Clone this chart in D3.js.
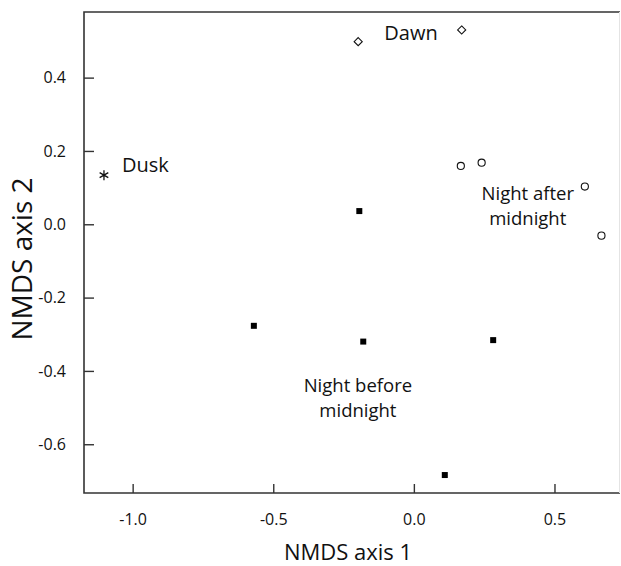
<!DOCTYPE html>
<html>
<head>
<meta charset="utf-8">
<script src="https://cdn.jsdelivr.net/npm/d3@7"></script>
<style>
  body { margin: 0; background: #fff; }
  svg text { font-family: "Open Sans", "Noto Sans", sans-serif; fill: #111; }
</style>
</head>
<body>
<div id="scatter"></div>
<script>
// NMDS scores, one array per sampling period
var duskX = [-1.102];
var duskY = [0.134];
var dawnX = [-0.198, 0.170];
var dawnY = [0.498, 0.530];
var afterX = [0.167, 0.241, 0.608, 0.667];
var afterY = [0.159, 0.168, 0.103, -0.031];
var beforeX = [-0.194, -0.569, -0.180, 0.282, 0.110];
var beforeY = [0.036, -0.277, -0.320, -0.316, -0.684];

var xTicks = [-1.0, -0.5, 0.0, 0.5];
var yTicks = [-0.6, -0.4, -0.2, 0.0, 0.2, 0.4];

// group labels and where they sit (data units)
var labelText = [["Dusk"], ["Dawn"], ["Night after", "midnight"], ["Night before", "midnight"]];
var labelX = [-0.955, -0.01, 0.405, -0.199];
var labelY = [0.143, 0.503, 0.066, -0.458];

var svgwidth = 621;
var svgheight = 566;
var margin = { top: 12, right: 1, bottom: 73, left: 84 };
var width = svgwidth - margin.left - margin.right;
var height = svgheight - margin.top - margin.bottom;

var svg = d3.select("#scatter")
  .append("svg")
  .attr("width", svgwidth)
  .attr("height", svgheight);

var chart = svg.append("g")
  .attr("transform", `translate(${margin.left}, ${margin.top})`);

var x = d3.scaleLinear().domain([-1.173, 0.733]).range([0, width]);
var y = d3.scaleLinear().domain([-0.733, 0.579]).range([height, 0]);

// plain hyphen for negatives, like the original
var fmt = function(d) { return d3.format(".1f")(d).replace("\u2212", "-"); };

var bottomaxis = d3.axisBottom(x).tickValues(xTicks).tickFormat(fmt)
  .tickSizeInner(-9).tickSizeOuter(0).tickPadding(21);
var leftaxis = d3.axisLeft(y).tickValues(yTicks).tickFormat(fmt)
  .tickSizeInner(-10).tickSizeOuter(0).tickPadding(18);

var gx = chart.append("g")
  .attr("transform", `translate(0, ${height})`)
  .call(bottomaxis);
var gy = chart.append("g").call(leftaxis);

[gx, gy].forEach(function(g) {
  g.select(".domain").remove();
  g.selectAll(".tick line").attr("stroke", "#333").attr("stroke-width", 1.4);
  g.selectAll(".tick text").style("font-size", "16px").attr("fill", "#111");
});

// frame: dark on left/top/bottom, faint on the right
chart.append("path")
  .attr("d", `M${width},0 H0 V${height} H${width}`)
  .attr("fill", "none").attr("stroke", "#333").attr("stroke-width", 1.6);
chart.append("line")
  .attr("x1", width - 0.5).attr("x2", width - 0.5)
  .attr("y1", 0).attr("y2", height)
  .attr("stroke", "#e4e4e4").attr("stroke-width", 1);

function pts(xs, ys) {
  return xs.map(function(d, i) { return { x: d, y: ys[i] }; });
}

function draw(data, type, size, fill, stroke, sw) {
  chart.selectAll(null)
    .data(data)
    .enter()
    .append("path")
    .attr("transform", function(d) { return `translate(${x(d.x)}, ${y(d.y)})`; })
    .attr("d", d3.symbol().type(type).size(size))
    .attr("fill", fill)
    .attr("stroke", stroke)
    .attr("stroke-width", sw);
}

draw(pts(beforeX, beforeY), d3.symbolSquare, 36, "#000", "none", 0);
draw(pts(afterX, afterY), d3.symbolCircle, 40, "#fff", "#111", 1.1);
draw(pts(dawnX, dawnY), d3.symbolDiamond2, 42, "#fff", "#111", 1.1);
draw(pts(duskX, duskY), d3.symbolAsterisk, 70, "none", "#111", 1.3);

labelText.forEach(function(lines, i) {
  var t = chart.append("text")
    .attr("text-anchor", "middle")
    .style("font-size", i < 2 ? "20px" : "18.5px")
    .attr("x", x(labelX[i]))
    .attr("y", y(labelY[i]));
  lines.forEach(function(l, j) {
    t.append("tspan")
      .attr("x", x(labelX[i]))
      .attr("dy", j === 0 ? 0 : 25)
      .text(l);
  });
});

chart.append("text")
  .attr("x", 264)
  .attr("y", height + 67)
  .attr("text-anchor", "middle")
  .style("font-size", "22px")
  .text("NMDS axis 1");

chart.append("text")
  .attr("transform", "rotate(-90)")
  .attr("x", -247)
  .attr("y", -52)
  .attr("text-anchor", "middle")
  .style("font-size", "28px")
  .text("NMDS axis 2");
</script>
</body>
</html>
